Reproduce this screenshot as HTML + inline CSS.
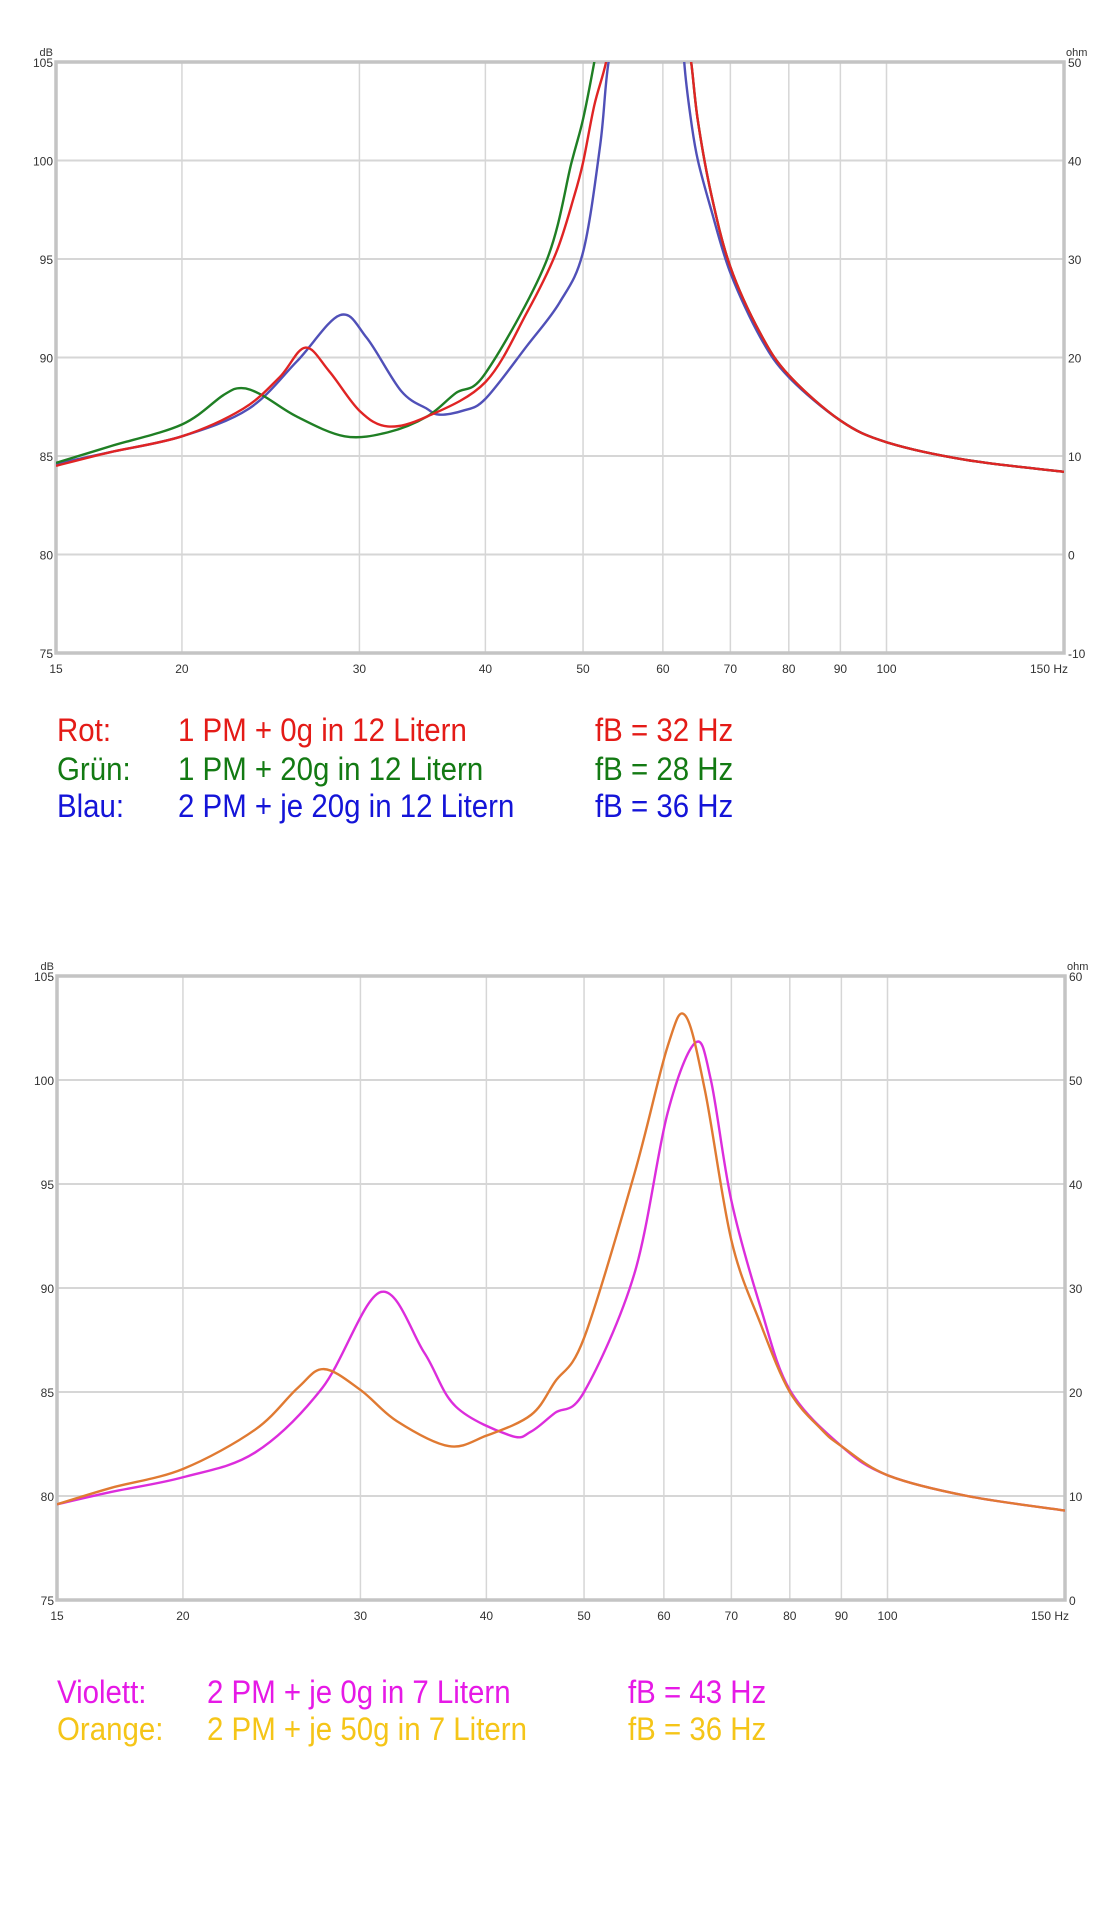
<!DOCTYPE html>
<html><head><meta charset="utf-8">
<style>
html,body{margin:0;padding:0;background:#fff;}
body{width:1110px;height:1914px;position:relative;overflow:hidden;font-family:"Liberation Sans",sans-serif;}
svg{position:absolute;left:0;top:0;}
.lg{position:absolute;font-size:32px;line-height:32px;transform:scaleX(0.92);transform-origin:left bottom;white-space:nowrap;}
</style></head>
<body>
<svg id="chart" width="1110" height="1914"></svg>

<div class="lg" style="left:57px;top:714px;color:#e41b17">Rot:</div>
<div class="lg" style="left:178px;top:714px;color:#e41b17">1 PM + 0g in 12 Litern</div>
<div class="lg" style="left:595px;top:714px;color:#e41b17">fB = 32 Hz</div>
<div class="lg" style="left:57px;top:753px;color:#137a13">Grün:</div>
<div class="lg" style="left:178px;top:753px;color:#137a13">1 PM + 20g in 12 Litern</div>
<div class="lg" style="left:595px;top:753px;color:#137a13">fB = 28 Hz</div>
<div class="lg" style="left:57px;top:790px;color:#1414d8">Blau:</div>
<div class="lg" style="left:178px;top:790px;color:#1414d8">2 PM + je 20g in 12 Litern</div>
<div class="lg" style="left:595px;top:790px;color:#1414d8">fB = 36 Hz</div>

<div class="lg" style="left:57px;top:1676px;color:#e619e6">Violett:</div>
<div class="lg" style="left:207px;top:1676px;color:#e619e6">2 PM + je 0g in 7 Litern</div>
<div class="lg" style="left:628px;top:1676px;color:#e619e6">fB = 43 Hz</div>
<div class="lg" style="left:57px;top:1713px;color:#f5c518">Orange:</div>
<div class="lg" style="left:207px;top:1713px;color:#f5c518">2 PM + je 50g in 7 Litern</div>
<div class="lg" style="left:628px;top:1713px;color:#f5c518">fB = 36 Hz</div>

<script>
// ---- data ----
const freqTicks = [15,20,30,40,50,60,70,80,90,100,150];
const freqTickLabels = ["15","20","30","40","50","60","70","80","90","100","150 Hz"];
const dbTicks = [75,80,85,90,95,100,105];
const ohmTicks1 = ["-10","0","10","20","30","40","50"];
const ohmTicks2 = ["0","10","20","30","40","50","60"];

const redFreq = [15,17,20,23,25,26.5,28,30,32,35,40,44,47,49,50,51.3,52.7,54,58,62,63.3,64,65,67,70,75,80,90,100,120,150];
const redDb   = [84.5,85.2,86.0,87.4,89.0,90.5,89.3,87.3,86.5,87.0,88.75,92.3,95.3,98.2,99.9,102.8,105,108,116,110,106,105,102,98.3,94.6,91.2,89.1,86.8,85.7,84.8,84.2];
const greenFreq = [15,17,20,22,22.9,24,26,29,32,35,37.4,40,45.9,48.7,50,51.3,52.5,56,62,63.3,64,65,67,70,75,80,90,100,120,150];
const greenDb   = [84.65,85.5,86.6,88.1,88.45,88.1,87.0,86.0,86.2,87.0,88.2,89.2,94.8,99.9,102.1,105,108,116,111,106,105,102,98.3,94.6,91.2,89.1,86.8,85.7,84.8,84.2];
const blueFreq = [15,17,20,23.3,26,28.7,30.5,33,35,36,38,40,44,47.4,50,52,53,55,59,62.5,63,64,65,67,70,75,80,90,100,120,150];
const blueDb   = [84.6,85.2,86.0,87.4,89.8,92.15,91.0,88.3,87.4,87.1,87.3,87.9,90.6,92.8,95.35,100.8,105,109,116,109,105,102,100,97.5,94.3,91.0,89.0,86.8,85.7,84.8,84.2];

const orangeFreq = [15,17,20,23.6,26,27.6,30,32.6,36.7,40,44.3,46.8,50,56.1,60.5,63,65.9,70,74.8,80,86,90,100,120,150];
const orangeDb   = [79.6,80.4,81.3,83.2,85.2,86.1,85.1,83.6,82.4,82.9,83.9,85.5,87.6,95.5,101.6,103.1,99.5,92.3,88.3,85.0,83.2,82.4,81.0,80.0,79.3];
const violetFreq = [15,17,20,23.6,27.5,31.4,34.7,37.3,42.3,44.3,46.8,50,56.1,60.5,64.5,66.8,70,74.8,80,90,100,120,150];
const violetDb   = [79.6,80.2,80.9,82.1,85.2,89.8,86.9,84.3,82.9,83.1,84.0,85.0,90.7,98.4,101.8,100,94.2,89.1,85.1,82.4,81.0,80.0,79.3];

// ---- drawing ----
const NS="http://www.w3.org/2000/svg";
const svg=document.getElementById('chart');
function mk(tag,attrs,parent){const e=document.createElementNS(NS,tag);for(const k in attrs)e.setAttribute(k,attrs[k]);(parent||svg).appendChild(e);return e;}

function drawChart(id,L,R,T,B,ohmLabels,series){
  const xs=f=>L+(R-L)*Math.log10(f/15)/Math.log10(10);
  const ys=d=>B-(B-T)*(d-75)/30;
  const g=mk('g',{});
  
  
  // grid
  freqTicks.forEach((f,i)=>{
    const x=xs(f);
    const ln=mk('line',{x1:x,y1:T,x2:x,y2:B,stroke:'#d6d6d6','stroke-width':1.5},g);
    
    
    const t=mk('text',{x:(i==freqTicks.length-1)?x+4:x,y:B+20,'font-size':12,fill:'#333','text-anchor':(i==freqTicks.length-1)?'end':'middle','font-family':'Liberation Sans Narrow, Liberation Sans, sans-serif'},g);
    t.textContent=freqTickLabels[i];
    
    
  });
  dbTicks.forEach((d,i)=>{
    const y=ys(d);
    const ln=mk('line',{x1:L,y1:y,x2:R,y2:y,stroke:'#d6d6d6','stroke-width':2},g);
    
    
    const t=mk('text',{x:L-3,y:y+5,'font-size':12,fill:'#333','text-anchor':'end','font-family':'Liberation Sans, sans-serif'},g);
    t.textContent=String(d);
    
    
    const t2=mk('text',{x:R+4,y:y+5,'font-size':12,fill:'#333','font-family':'Liberation Sans, sans-serif'},g);
    t2.textContent=ohmLabels[i];
    
    
  });
  const u1=mk('text',{x:L-3,y:T-6,'font-size':11,fill:'#333','text-anchor':'end'},g);
  u1.textContent='dB';
  
  
  const u2=mk('text',{x:R+2,y:T-6,'font-size':11,fill:'#333'},g);
  u2.textContent='ohm';
  
  
  const fr=mk('rect',{x:L,y:T,width:R-L,height:B-T,fill:'none',stroke:'#c4c4c4','stroke-width':3.5},g);
  
  
  const cp=mk('clipPath',{id:id+'-clip'},g);
  mk('rect',{x:L,y:T,width:R-L,height:B-T},cp);
  series.forEach(s=>{
    const pts=s.f.map((f,i)=>[xs(f),ys(s.d[i])]);
    let d='M'+pts[0][0]+','+pts[0][1];
    for(let i=0;i<pts.length-1;i++){
      const p0=pts[Math.max(0,i-1)],p1=pts[i],p2=pts[i+1],p3=pts[Math.min(pts.length-1,i+2)];
      const c1=[p1[0]+(p2[0]-p0[0])/6,p1[1]+(p2[1]-p0[1])/6];
      const c2=[p2[0]-(p3[0]-p1[0])/6,p2[1]-(p3[1]-p1[1])/6];
      d+=' C'+c1[0]+','+c1[1]+' '+c2[0]+','+c2[1]+' '+p2[0]+','+p2[1];
    }
    const p=mk('path',{d:d,fill:'none',stroke:s.c,'stroke-width':2.4,'clip-path':'url(#'+id+'-clip)'},g);
    
    
  });
}
drawChart('chart-top',56,1064,62,653,ohmTicks1,[
  {f:blueFreq,d:blueDb,c:'#5050b8',n:'series-blue'},
  {f:greenFreq,d:greenDb,c:'#1f7f24',n:'series-green'},
  {f:redFreq,d:redDb,c:'#e02424',n:'series-red'}
]);
drawChart('chart-bottom',57,1065,976,1600,ohmTicks2,[
  {f:violetFreq,d:violetDb,c:'#dc2ddc',n:'series-violet'},
  {f:orangeFreq,d:orangeDb,c:'#e07a32',n:'series-orange'}
]);
</script>
</body></html>
